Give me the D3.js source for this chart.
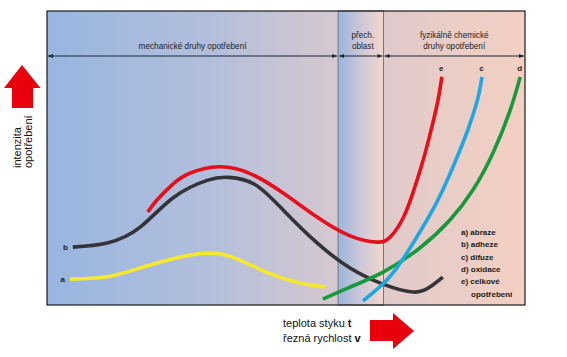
<!DOCTYPE html>
<html><head><meta charset="utf-8">
<script src="https://cdn.jsdelivr.net/npm/d3@7/dist/d3.min.js"></script>
<style>body{margin:0;background:#fff}svg{display:block}text{font-family:"Liberation Sans",Arial,sans-serif}</style>
</head><body><svg id="c" width="567" height="357"></svg>
<script>
// ---- data (x: teplota/rychlost 0-100, y: intenzita opotřebení 0-100) ----
const curveA_x = [4.8, 12.6, 19.5, 26.0, 33.0, 38.9, 46.0, 52.9, 58.2];
const curveA_y = [8.8, 9.6, 12.6, 15.6, 17.6, 16.2, 11.1, 7.5, 6.1];
const curveB_x = [5.4, 12.6, 19.5, 26.4, 33.5, 38.0, 43.5, 49.4, 56.5, 63.4, 70.3, 76.6, 80.1, 82.8];
const curveB_y = [19.7, 21.1, 26.5, 36.5, 42.4, 43.4, 41.0, 32.3, 21.1, 12.6, 7.1, 4.4, 6.1, 9.5];
const curveC_x = [66.1, 71.1, 75.3, 79.5, 82.8, 87.0, 88.9, 90.2, 91.0];
const curveC_y = [1.4, 8.5, 17.7, 28.9, 39.1, 55.1, 63.6, 70.7, 77.6];
const curveD_x = [57.7, 63.4, 70.3, 78.0, 84.3, 89.1, 93.3, 96.9, 99.0];
const curveD_y = [2.0, 6.1, 11.2, 19.4, 28.9, 39.1, 51.7, 66.3, 77.6];
const curveE_x = [21.1, 23.0, 26.4, 30.0, 36.0, 42.5, 49.4, 56.5, 63.4, 69.0, 71.8, 74.5, 76.6, 78.7, 80.5, 81.8, 82.6];
const curveE_y = [31.6, 35.7, 41.2, 44.9, 47.0, 44.7, 38.1, 29.9, 23.5, 21.4, 23.1, 29.6, 38.4, 49.3, 60.5, 69.7, 77.6];
const curveNames = ["a", "b", "c", "d", "e"];
const curveColors = ["#f6e82c", "#343438", "#1fa7e4", "#16993c", "#e60f1c"];
const regionBounds = [0, 60.9, 70.4, 100];
const regionLabels = [["mechanické druhy opotřebení"], ["přech.", "oblast"], ["fyzikálně chemické", "druhy opotřebení"]];
const legendLabels = ["a) abraze", "b) adheze", "c) difuze", "d) oxidace", "e) celkové", "opotřebení"];
const yAxisLabel = ["intenzita", "opotřebení"];
const xAxisLabel = [["teplota styku ", "t"], ["řezná rychlost ", "v"]];

const svg = d3.select("#c");
const L = 47, R = 525, T = 11, B = 305;
const x = d3.scaleLinear().domain([0, 100]).range([L, R]);
const y = d3.scaleLinear().domain([0, 100]).range([B, T]);

const defs = svg.append("defs");
const g1 = defs.append("linearGradient").attr("id", "bg").attr("x1", 0).attr("x2", 1).attr("y1", 0).attr("y2", 0);
[[0, "#98b6e1"], [0.35, "#b3bfdb"], [0.6, "#d5c8d0"], [0.75, "#e3cbc9"], [1, "#f4d0c2"]].forEach(s => g1.append("stop").attr("offset", s[0]).attr("stop-color", s[1]));
const g2 = defs.append("linearGradient").attr("id", "band").attr("x1", 0).attr("x2", 1).attr("y1", 0).attr("y2", 0);
[[0, "#9ab5dd"], [0.5, "#cdc8d8"], [1, "#f3d7cc"]].forEach(s => g2.append("stop").attr("offset", s[0]).attr("stop-color", s[1]));
["s", "e"].forEach(k => {
  defs.append("marker").attr("id", "m" + k).attr("viewBox", "0 0 10 10").attr("refX", k === "e" ? 10 : 0).attr("refY", 5)
    .attr("markerWidth", 7).attr("markerHeight", 5).attr("markerUnits", "userSpaceOnUse").attr("orient", "auto")
    .append("path").attr("d", k === "e" ? "M0,1L10,5L0,9Z" : "M10,1L0,5L10,9Z").attr("fill", "#1a2636");
});

// background
svg.append("rect").attr("x", x(0)).attr("y", y(100)).attr("width", x(100) - x(0)).attr("height", y(0) - y(100)).attr("fill", "url(#bg)");
svg.append("rect").attr("x", x(regionBounds[1])).attr("y", y(100)).attr("width", x(regionBounds[2]) - x(regionBounds[1]))
  .attr("height", y(0) - y(100)).attr("fill", "url(#band)").attr("stroke", "#74747c").attr("stroke-width", 1);

// region arrows and labels
const arrowY = y(84.7);
for (let i = 0; i < 3; i++) {
  const x0 = x(regionBounds[i]) + 1, x1 = x(regionBounds[i + 1]) - 1;
  svg.append("line").attr("x1", x0).attr("x2", x1).attr("y1", arrowY).attr("y2", arrowY)
    .attr("stroke", "#1a2636").attr("stroke-width", 1.1).attr("marker-start", "url(#ms)").attr("marker-end", "url(#me)");
  const lines = regionLabels[i];
  lines.forEach((t, j) => {
    svg.append("text").attr("x", (x0 + x1) / 2 + (i === 1 ? 2 : 0)).attr("y", arrowY - 7 - (lines.length - 1 - j) * 10.5)
      .attr("text-anchor", "middle").attr("font-size", 8.2).attr("fill", "#1c1c28").text(t);
  });
}

// curves
const line = d3.line().x(d => x(d[0])).y(d => y(d[1])).curve(d3.curveNatural);
const curves = [[curveA_x, curveA_y], [curveB_x, curveB_y], [curveC_x, curveC_y], [curveD_x, curveD_y], [curveE_x, curveE_y]];
const drawOrder = [0, 1, 4, 3, 2];
drawOrder.forEach(i => {
  const pts = curves[i][0].map((v, k) => [v, curves[i][1][k]]);
  svg.append("path").attr("d", line(pts)).attr("fill", "none").attr("stroke", curveColors[i])
    .attr("stroke-width", 3.6).attr("stroke-linecap", "butt");
});

// curve labels
curves.forEach((c, i) => {
  let lx, ly, anchor;
  if (i <= 1) { lx = x(c[0][0]) - 5; ly = y(c[1][0]) + 3; anchor = "end"; }
  else { const n = c[0].length - 1; lx = x(c[0][n]) - 0.5; ly = y(c[1][n]) - 6; anchor = "middle"; }
  svg.append("text").attr("x", lx).attr("y", ly).attr("text-anchor", anchor).attr("font-size", 8)
    .attr("font-weight", "bold").attr("fill", "#1a1a1a").text(curveNames[i]);
});

// legend
legendLabels.forEach((t, i) => {
  svg.append("text").attr("x", i === 5 ? 471 : 461).attr("y", 235 + i * 12.3).attr("font-size", 8)
    .attr("font-weight", "bold").attr("fill", "#1a1a1a").text(t);
});

// frame
svg.append("rect").attr("x", x(0)).attr("y", y(100)).attr("width", x(100) - x(0)).attr("height", y(0) - y(100))
  .attr("fill", "none").attr("stroke", "#1a1a1a").attr("stroke-width", 1.2);

// left red arrow (up) and label
svg.append("path").attr("d", "M22,65L40.5,88L33,88L33,108L12,108L12,88L4,88Z").attr("fill", "#e8000c");
yAxisLabel.forEach((t, i) => {
  svg.append("text").attr("transform", `translate(${21 + i * 11},168) rotate(-90)`).attr("font-size", 11)
    .attr("fill", "#111").text(t);
});

// bottom red arrow (right) and label
svg.append("path").attr("d", "M370,320L393,320L393,313L414,331L393,349L393,341L370,341Z").attr("fill", "#e8000c");
xAxisLabel.forEach((p, i) => {
  const t = svg.append("text").attr("x", 283).attr("y", 327 + i * 15).attr("font-size", 11).attr("fill", "#111");
  t.append("tspan").text(p[0]);
  t.append("tspan").attr("font-weight", "bold").text(p[1]);
});
</script></body></html>
